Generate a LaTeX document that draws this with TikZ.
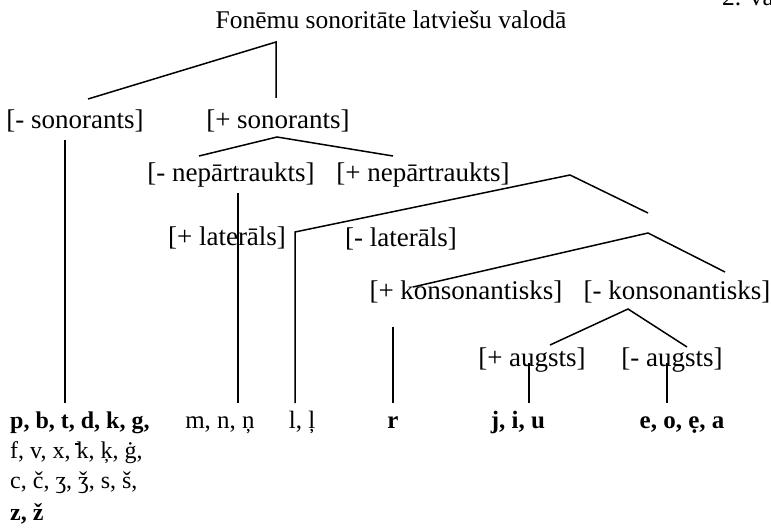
\documentclass[tikz,border=0pt]{standalone}
\usepackage{fontspec}
\setmainfont{Liberation Serif}
\newcommand{\kstroke}{\makebox[0pt][l]{\hspace{-0.06em}\raisebox{0.55em}{\rule{0.22em}{0.06em}}}k}
\begin{document}
\begin{tikzpicture}[x=1pt,y=-1pt,
  lab/.style={inner sep=0pt, font=\fontsize{27}{30}\selectfont},
  ttl/.style={inner sep=0pt, font=\fontsize{25.5}{30}\selectfont},
  leaf/.style={inner sep=0pt, anchor=base, font=\fontsize{25}{30}\selectfont\bfseries},
  leafr/.style={inner sep=0pt, anchor=base, font=\fontsize{25}{30}\selectfont},
  leafl/.style={inner sep=0pt, anchor=base west, font=\fontsize{24}{30}\selectfont},
  leaflb/.style={inner sep=0pt, anchor=base west, font=\fontsize{24}{30}\selectfont\bfseries},
  br/.style={line width=1.5pt},
  stem/.style={line width=2pt}]
\useasboundingbox (0,0) rectangle (771,532);
% header
\node[ttl, anchor=base west] (var) at (722,6) {2. variants};
\node[ttl] (title) at (391,20) {Fonēmu sonoritāte latviešu valodā};
% labels
\node[lab] (msono) at (75,121) {[- sonorants]};
\node[lab] (psono) at (278,121) {[+ sonorants]};
\node[lab] (mnep) at (231,175) {[- nepārtraukts]};
\node[lab] (pnep) at (423,175) {[+ nepārtraukts]};
\node[lab] (plat) at (227,238) {[+ laterāls]};
\node[lab] (mlat) at (401,239) {[- laterāls]};
\node[lab] (pkons) at (466,292) {[+ konsonantisks]};
\node[lab] (mkons) at (677,292) {[- konsonantisks]};
\node[lab] (paug) at (532,360) {[+ augsts]};
\node[lab] (maug) at (672,360) {[- augsts]};
% leaves
\node[leaflb] (l1) at (10,428) {p, b, t, d, k, g,};
\node[leafl] (l2) at (10,458) {f, v, x, \kstroke, ķ, ġ,};
\node[leafl] (l3) at (10,488) {c, č, ʒ, ǯ, s, š,};
\node[leaflb] (l4) at (10,520) {z, ž};
\node[leafr] (mn) at (220,428) {m, n, ņ};
\node[leafr] (ll) at (302,428) {l, ļ};
\node[leaf] (rr) at (393,428) {r};
\node[leaf] (jiu) at (518,428) {j, i, u};
\node[leaf] (eoa) at (682,428) {e, o, ẹ, a};
% coordinates
\coordinate (a1) at (276,42);
\coordinate (a1l) at (88,99);
\coordinate (a1r) at (276,98);
\coordinate (s1t) at (65,140);
\coordinate (s1b) at (65,403);
\coordinate (a2) at (277,137);
\coordinate (a2l) at (199,156);
\coordinate (a2r) at (393,156);
\coordinate (s2t) at (238,193);
\coordinate (s2b) at (238,403);
\coordinate (a3) at (570,175);
\coordinate (a3l) at (295,232);
\coordinate (s3b) at (295,403);
\coordinate (a3r) at (648,213);
\coordinate (a4) at (648,233);
\coordinate (a4l) at (413,287);
\coordinate (a4r) at (725,272);
\coordinate (s4t) at (393,327);
\coordinate (s4b) at (393,403);
\coordinate (a5) at (628,309);
\coordinate (a5l) at (550,345);
\coordinate (a5r) at (687,347);
\coordinate (s5t) at (529,363);
\coordinate (s5b) at (529,403);
\coordinate (s6t) at (667,363);
\coordinate (s6b) at (667,403);
% connectors
\draw[br] (a1l) -- (a1) -- (a1r);
\draw[stem] (s1t) -- (s1b);
\draw[br] (a2l) -- (a2) -- (a2r);
\draw[br] (s2t) -- (s2b);
\draw[br] (s3b) -- (a3l) -- (a3) -- (a3r);
\draw[br] (a4l) -- (a4) -- (a4r);
\draw[stem] (s4t) -- (s4b);
\draw[br] (a5l) -- (a5) -- (a5r);
\draw[br] (s5t) -- (s5b);
\draw[stem] (s6t) -- (s6b);
\end{tikzpicture}
\end{document}
